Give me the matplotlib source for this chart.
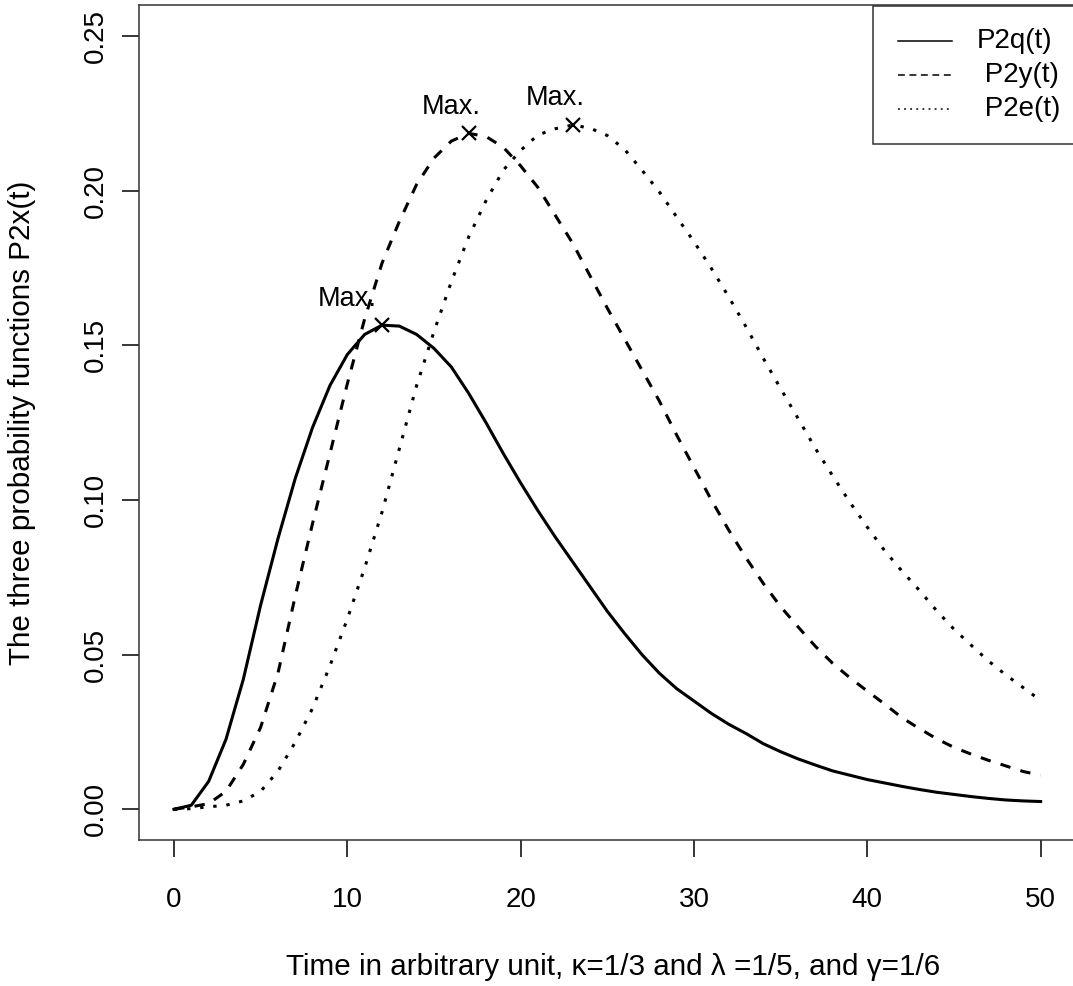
import numpy as np
import matplotlib
matplotlib.use("Agg")
import matplotlib.pyplot as plt
from matplotlib.patches import Rectangle

plt.rcParams['font.family'] = ['Liberation Sans', 'DejaVu Sans']

# time steps 0..50
t = np.arange(51)

# values
P2q = [0.0, 0.0013, 0.0090, 0.0226, 0.0420, 0.0660, 0.0875, 0.1070, 0.1235, 0.1370,
       0.1470, 0.1535, 0.1565, 0.1562, 0.1535, 0.1490, 0.1430, 0.1345, 0.1250, 0.1150,
       0.1055, 0.0965, 0.0880, 0.0800, 0.0720, 0.0640, 0.0568, 0.0500, 0.0440, 0.0390,
       0.0350, 0.0310, 0.0275, 0.0245, 0.0212, 0.0186, 0.0163, 0.0143, 0.0124, 0.0110,
       0.0096, 0.0085, 0.0074, 0.0064, 0.0055, 0.0048, 0.0041, 0.0035, 0.0030, 0.0027,
       0.0025]
P2y = [0.0, 0.0008, 0.0018, 0.0058, 0.0145, 0.0265, 0.0440, 0.0690, 0.0925, 0.1150,
       0.1375, 0.1585, 0.1765, 0.1900, 0.2020, 0.2105, 0.2160, 0.2185, 0.2175, 0.2140,
       0.2080, 0.2010, 0.1920, 0.1830, 0.1725, 0.1620, 0.1520, 0.1420, 0.1320, 0.1210,
       0.1105, 0.1000, 0.0903, 0.0813, 0.0730, 0.0655, 0.0590, 0.0527, 0.0472, 0.0425,
       0.0382, 0.0340, 0.0296, 0.0261, 0.0228, 0.0200, 0.0178, 0.0158, 0.0140, 0.0122,
       0.0110]
P2e = [0.0, 0.0002, 0.0008, 0.0013, 0.0027, 0.0058, 0.0123, 0.0217, 0.0327, 0.0464,
       0.0615, 0.0780, 0.0960, 0.1165, 0.1370, 0.1544, 0.1705, 0.1850, 0.1967, 0.2066,
       0.2130, 0.2180, 0.2200, 0.2212, 0.2202, 0.2178, 0.2133, 0.2066, 0.1996, 0.1915,
       0.1835, 0.1749, 0.1657, 0.1560, 0.1458, 0.1360, 0.1264, 0.1167, 0.1078, 0.0992,
       0.0912, 0.0836, 0.0770, 0.0708, 0.0642, 0.0582, 0.0530, 0.0479, 0.0434, 0.0393,
       0.0352]

labels = ['P2q(t)', ' P2y(t)', ' P2e(t)']
max_text_pos = [(10, 0.165), (16, 0.227), (22, 0.230)]

xticks = [0, 10, 20, 30, 40, 50]
yticks = [0.00, 0.05, 0.10, 0.15, 0.20, 0.25]

fs = 20
fs_lab = 21.3
W, H = 1073, 986
fig = plt.figure(figsize=(W/100, H/100), dpi=100)
# R-like plot region, right edge runs just past the image border
L, R, T, B = 139.3, 1075.3, 5.0, 840.2
ax = fig.add_axes([L/W, 1 - B/H, (R-L)/W, (B-T)/H])

def axx(px):
	return (px - L)/(R - L)
def axy(py):
	return (B - py)/(B - T)

lw = 2.2
styles = ['-', (0, (3.4, 3.4)), (0, (1.1, 3.2))]
for series, ls in zip([P2q, P2y, P2e], styles):
	ax.plot(t, series, color='black', lw=lw, linestyle=ls)

# mark the maxima
for series, (tx, ty) in zip([P2q, P2y, P2e], max_text_pos):
	i = int(np.argmax(series))
	ax.plot(t[i], series[i], marker='x', ms=10.5, mew=1.6, color='black')
	ax.text(tx, ty, 'Max.', ha='center', va='center', fontsize=19.5)

ax.set_xlim(-2, 52)
ax.set_ylim(-0.01, 0.26)
ax.set_xticks(xticks)
ax.set_xticklabels([str(x) for x in xticks])
ax.set_yticks(yticks)
ax.set_yticklabels(['%.2f' % y for y in yticks], rotation=90, va='center')
ax.tick_params(axis='both', length=12.2, width=1.1, labelsize=fs, color='black')
ax.tick_params(axis='x', pad=21.4)
ax.tick_params(axis='y', pad=9.4)
for s in ax.spines.values():
	s.set_color('#333333')
	s.set_linewidth(1.1)

ax.set_xlabel('Time in arbitrary unit, \u03ba=1/3 and \u03bb =1/5, and \u03b3=1/6', fontsize=fs_lab, va='center')
ax.xaxis.set_label_coords(axx(613), axy(967))
ax.set_ylabel('The three probability functions P2x(t)', fontsize=fs_lab, va='center')
ax.yaxis.set_label_coords(axx(22), 0.5)

# legend box, R style (topright, no inset)
ax.add_patch(Rectangle((axx(873), axy(144)), axx(1080) - axx(873), axy(6) - axy(144),
                       transform=ax.transAxes, facecolor='white', edgecolor='#333333',
                       lw=1.1, zorder=5, clip_on=False))
leg_styles = ['-', (0, (4.5, 3)), (0, (1.2, 2.8))]
row_y = [40.7, 74.7, 109.0]
for ls, lab, ry in zip(leg_styles, labels, row_y):
	ax.plot([axx(898), axx(952)], [axy(ry), axy(ry)], transform=ax.transAxes,
	        color='black', lw=1.1, linestyle=ls, zorder=6, clip_on=False)
	ax.text(axx(976.7), axy(ry), lab, transform=ax.transAxes, fontsize=fs,
	        ha='left', va='center', zorder=6)

plt.savefig('out.png', dpi=100)
